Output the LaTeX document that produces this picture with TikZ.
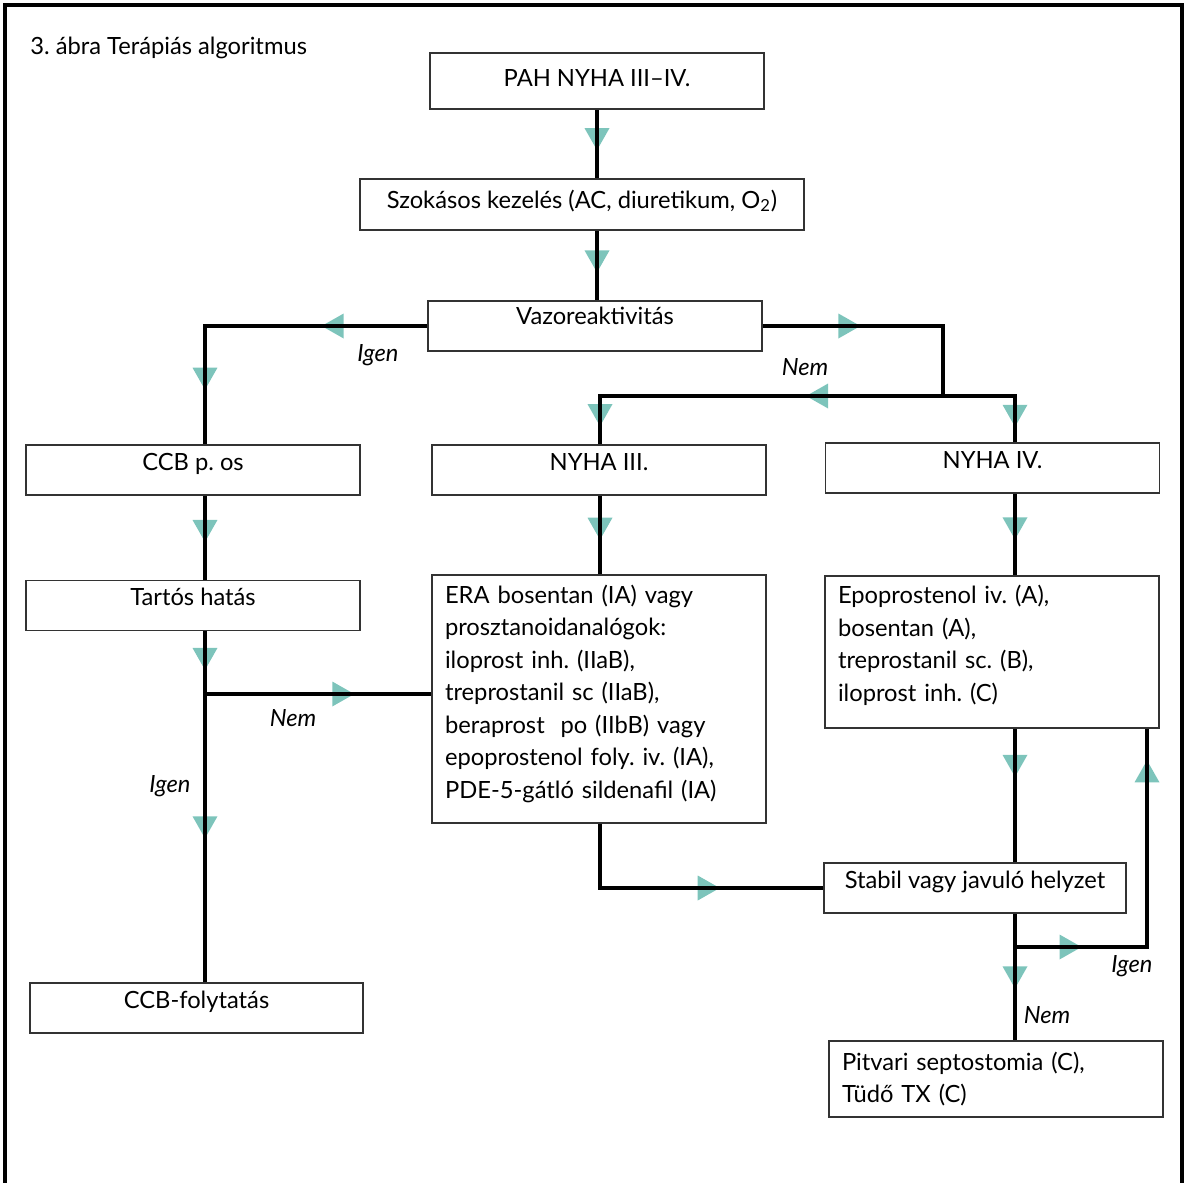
\documentclass[tikz,border=0pt]{standalone}
\usepackage{fontspec}
\setmainfont{Lato}
\usepackage{xcolor}
\usetikzlibrary{arrows.meta,positioning,decorations.markings}
\definecolor{tipteal}{RGB}{125,196,187}
\frenchspacing

\begin{document}
\begin{tikzpicture}[
  x=0.02cm, y=-0.02cm,
  font=\fontsize{13.5}{18.5}\selectfont,
  box/.style={draw=black!80, line width=1pt, inner sep=0pt, minimum width=6.68cm,
              text height=0.5cm, text depth=0.5cm},
  list/.style={draw=black!80, line width=1pt, align=left, inner xsep=0.26cm,
               inner ysep=0pt, text width=6.16cm},
  flow/.style={line width=2pt},
  tealtip/.tip={Triangle[length=0.44cm, width=0.5cm, line width=0pt, color=tipteal]},
  midtip/.style={preaction={decorate, decoration={markings,
                 mark=at position #1 with {\arrow{tealtip}}}}},
  lbl/.style={font=\fontsize{13.5}{15}\selectfont\itshape}
]
\useasboundingbox (0,0) rectangle (1191,1183);
\draw[line width=2.2pt] (5,1183) -- (5,5) -- (1182,5) -- (1182,1183);

\node[anchor=base west, inner sep=0pt] (title) at (30,54) {3. ábra Terápiás algoritmus};

% columns of the connectors
\coordinate (colL) at (205,0);
\coordinate (colM) at (600,0);
\coordinate (colR) at (1015,0);
\coordinate (colB) at (1147,0);

\node[box, text height=0.68cm, text depth=0.44cm] (pah) at (597,81) {PAH NYHA III--IV.};
\node[box, minimum width=8.88cm, text height=0.58cm, text depth=0.44cm] (szok) at (582,204.5)
  {Szokásos kezelés (AC, diuretikum, O\textsubscript{2})};
\node[box, text height=0.46cm, text depth=0.54cm] (vazo) at (595,326) {Vazoreaktivitás};

\node[box] (ccb) at (193,470) {CCB p. os};
\node[box] (tartos) at (193,605.5) {Tartós hatás};
\node[box, minimum width=6.66cm] (folyt) at (196.5,1008) {CCB-folytatás};

\node[box] (nyha3) at (599,470) {NYHA III.};
\node[list, minimum height=4.96cm] (era) at (599,699)
  {ERA bosentan (IA) vagy\\
   prosztanoidanalógok:\\
   iloprost inh. (IIaB),\\
   treprostanil sc (IIaB),\\
   beraprost~ po (IIbB) vagy\\
   epoprostenol foly. iv. (IA),\\
   PDE-5-gátló sildenafil (IA)\rule[-0.3cm]{0pt}{0pt}};

\node[box] (nyha4) at (992.5,468) {NYHA IV.};
\node[list, minimum height=3.04cm] (epo) at (992,652)
  {Epoprostenol iv. (A),\\
   bosentan (A),\\
   treprostanil sc. (B),\\
   iloprost inh. (C)\rule[-0.35cm]{0pt}{0pt}};
\node[box, minimum width=6.04cm] (stabil) at (975,888) {Stabil vagy javuló helyzet};
\node[list, minimum height=1.52cm] (pitvari) at (996,1079)
  {Pitvari septostomia (C),\\
   Tüdő TX (C)};

% branching points
\coordinate (split) at (943,396);
\coordinate (nemL) at (205,694);
\coordinate (igenR) at (1015,947);

\draw[flow, midtip=0.59] (pah.south) -- (pah.south |- szok.north);
\draw[flow, midtip=0.6] (szok.south -| pah.south) -- (vazo.north -| pah.south);
\draw[flow, midtip=0.31, midtip=0.84] (vazo.west) -| (ccb.north -| colL);
\draw[flow, midtip=0.39] (vazo.east) -| (split);
\draw[flow, midtip=0.35, midtip=0.954] (split) -| (nyha3.north -| colM);
\draw[flow, midtip=0.87] (split) -| (nyha4.north -| colR);

\draw[flow, midtip=0.55] (ccb.south -| colL) -- (tartos.north -| colL);
\draw[flow, midtip=0.11, midtip=0.59] (tartos.south -| colL) -- (folyt.north -| colL);
\draw[flow, midtip=0.66] (nemL) -- (nemL -| era.west);

\draw[flow, midtip=0.56] (nyha3.south -| colM) -- (era.north -| colM);
\draw[flow, midtip=0.64] (era.south -| colM) |- (stabil.west);

\draw[flow, midtip=0.56] (nyha4.south -| colR) -- (epo.north -| colR);
\draw[flow, midtip=0.36] (epo.south -| colR) -- (stabil.north -| colR);
\draw[flow, midtip=0.59] (stabil.south -| colR) -- (pitvari.north -| colR);
\draw[flow, midtip=0.19, midtip=0.91] (igenR) -| (epo.south -| colB);

\node[lbl] (igen1) at (378,355) {Igen};
\node[lbl] (nem1) at (805,367) {Nem};
\node[lbl] (nem2) at (293,718) {Nem};
\node[lbl] (igen2) at (170,786) {Igen};
\node[lbl] (igen3) at (1132,966) {Igen};
\node[lbl] (nem3) at (1047,1015) {Nem};
\end{tikzpicture}
\end{document}
